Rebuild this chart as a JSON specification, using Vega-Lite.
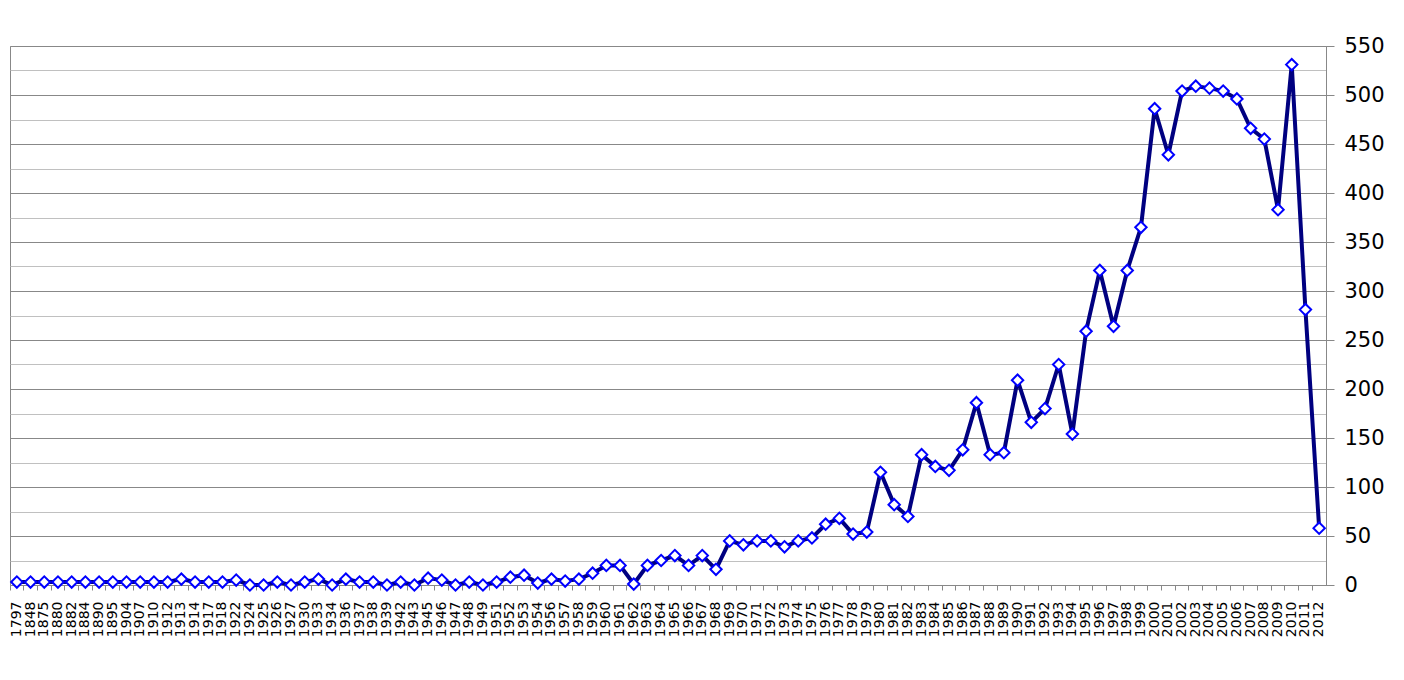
{
  "$schema": "https://vega.github.io/schema/vega-lite/v6.json",
  "autosize": "none",
  "width": 1316,
  "height": 539,
  "padding": {"left": 10, "top": 46, "right": 78, "bottom": 95},
  "background": "white",
  "config": {"view": {"stroke": "#888888", "strokeWidth": 1}},
  "data": {"values": [
    {"year": "1797", "v": 3}, {"year": "1848", "v": 3}, {"year": "1875", "v": 3}, {"year": "1880", "v": 3},
    {"year": "1882", "v": 3}, {"year": "1884", "v": 3}, {"year": "1890", "v": 3}, {"year": "1895", "v": 3},
    {"year": "1904", "v": 3}, {"year": "1907", "v": 3}, {"year": "1910", "v": 3}, {"year": "1912", "v": 3},
    {"year": "1913", "v": 6}, {"year": "1914", "v": 3}, {"year": "1917", "v": 3}, {"year": "1918", "v": 3},
    {"year": "1922", "v": 5}, {"year": "1924", "v": 0}, {"year": "1925", "v": 0}, {"year": "1926", "v": 3},
    {"year": "1927", "v": 0}, {"year": "1930", "v": 3}, {"year": "1933", "v": 6}, {"year": "1934", "v": 0},
    {"year": "1936", "v": 6}, {"year": "1937", "v": 3}, {"year": "1938", "v": 3}, {"year": "1939", "v": 0},
    {"year": "1942", "v": 3}, {"year": "1943", "v": 0}, {"year": "1945", "v": 7}, {"year": "1946", "v": 5},
    {"year": "1947", "v": 0}, {"year": "1948", "v": 3}, {"year": "1949", "v": 0}, {"year": "1951", "v": 3},
    {"year": "1952", "v": 8}, {"year": "1953", "v": 10}, {"year": "1954", "v": 2}, {"year": "1956", "v": 6},
    {"year": "1957", "v": 4}, {"year": "1958", "v": 6}, {"year": "1959", "v": 12}, {"year": "1960", "v": 20},
    {"year": "1961", "v": 20}, {"year": "1962", "v": 1}, {"year": "1963", "v": 20}, {"year": "1964", "v": 25},
    {"year": "1965", "v": 30}, {"year": "1966", "v": 20}, {"year": "1967", "v": 30}, {"year": "1968", "v": 16},
    {"year": "1969", "v": 45}, {"year": "1970", "v": 41}, {"year": "1971", "v": 45}, {"year": "1972", "v": 45},
    {"year": "1973", "v": 39}, {"year": "1974", "v": 45}, {"year": "1975", "v": 48}, {"year": "1976", "v": 62},
    {"year": "1977", "v": 68}, {"year": "1978", "v": 52}, {"year": "1979", "v": 54}, {"year": "1980", "v": 115},
    {"year": "1981", "v": 82}, {"year": "1982", "v": 70}, {"year": "1983", "v": 133}, {"year": "1984", "v": 121},
    {"year": "1985", "v": 117}, {"year": "1986", "v": 138}, {"year": "1987", "v": 186}, {"year": "1988", "v": 133},
    {"year": "1989", "v": 135}, {"year": "1990", "v": 209}, {"year": "1991", "v": 166}, {"year": "1992", "v": 180},
    {"year": "1993", "v": 225}, {"year": "1994", "v": 154}, {"year": "1995", "v": 259}, {"year": "1996", "v": 321},
    {"year": "1997", "v": 264}, {"year": "1998", "v": 321}, {"year": "1999", "v": 365}, {"year": "2000", "v": 486},
    {"year": "2001", "v": 439}, {"year": "2002", "v": 504}, {"year": "2003", "v": 509}, {"year": "2004", "v": 507},
    {"year": "2005", "v": 504}, {"year": "2006", "v": 496}, {"year": "2007", "v": 466}, {"year": "2008", "v": 455},
    {"year": "2009", "v": 383}, {"year": "2010", "v": 531}, {"year": "2011", "v": 281}, {"year": "2012", "v": 58}
  ]},
  "encoding": {
    "x": {
      "field": "year", "type": "ordinal", "sort": null,
      "scale": {"type": "band", "paddingInner": 0, "paddingOuter": 0},
      "axis": {
        "title": null, "labelAngle": 270, "labelFont": "DejaVu Sans", "labelFontSize": 14,
        "labelColor": "black", "labelOverlap": false, "labelPadding": 11, "labelFlush": false,
        "tickSize": 5, "tickColor": "#888888", "domainColor": "#888888", "bandPosition": 0, "grid": false
      }
    }
  },
  "layer": [
    {
      "mark": {"type": "line", "color": "#000080", "strokeWidth": 4},
      "encoding": {
        "y": {
          "field": "v", "type": "quantitative",
          "scale": {"domain": [0, 550], "nice": false},
          "axis": {
            "orient": "right", "title": null,
            "values": [0, 50, 100, 150, 200, 250, 300, 350, 400, 450, 500, 550],
            "grid": true, "gridColor": "#888888", "gridWidth": 1,
            "tickSize": 8, "tickColor": "#888888", "domainColor": "#888888",
            "labelFont": "DejaVu Sans", "labelFontSize": 21, "labelColor": "black",
            "labelPadding": 10, "labelFlush": false
          }
        }
      }
    },
    {
      "mark": {"type": "point", "shape": "diamond", "filled": true, "fill": "white", "stroke": "#0000FF", "strokeWidth": 2, "size": 130, "opacity": 1},
      "encoding": {
        "y": {
          "field": "v", "type": "quantitative",
          "scale": {"domain": [0, 550], "nice": false},
          "axis": {
            "orient": "right", "title": null,
            "values": [25, 75, 125, 175, 225, 275, 325, 375, 425, 475, 525],
            "grid": true, "gridColor": "#C0C0C0", "gridWidth": 1,
            "ticks": false, "labels": false, "domain": false
          }
        }
      }
    }
  ],
  "resolve": {"axis": {"y": "independent"}}
}
